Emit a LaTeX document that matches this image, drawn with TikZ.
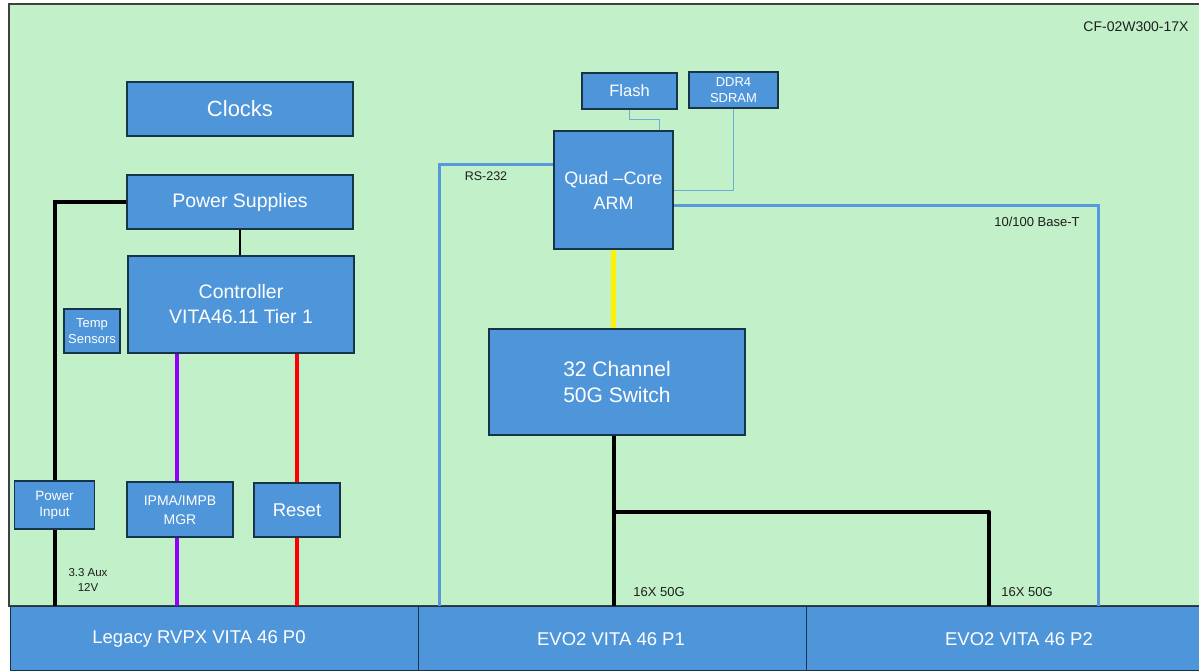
\documentclass[tikz,border=0pt]{standalone}
\usepackage{fontspec}
\setmainfont{Liberation Sans}
\definecolor{board}{RGB}{194,240,200}
\definecolor{boxblue}{RGB}{78,149,217}
\definecolor{edge}{RGB}{24,52,72}
\definecolor{linkblue}{RGB}{86,152,218}
\definecolor{thinblue}{RGB}{112,172,216}
\definecolor{wire}{RGB}{30,30,30}
\definecolor{ipmbline}{RGB}{145,0,255}
\begin{document}
\begin{tikzpicture}[x=1pt,y=-1pt,
    box/.style={draw=edge,line width=1.6pt,fill=boxblue,text=white,align=center,inner sep=0pt},
    conn/.style={draw=edge,line width=1pt,fill=boxblue,inner sep=0pt},
    tag/.style={text=wire,align=center,inner sep=0pt,font=\fontsize{13}{14.5}\selectfont},
    pwr/.style={draw=black,line width=4pt},
    eth/.style={draw=linkblue,line width=3pt},
    mem/.style={draw=thinblue,line width=1pt}]
  \useasboundingbox (0,0) rectangle (1199,670);
  \draw[line width=1.5pt,draw=black!75,fill=board] (9,4) rectangle (1230,606);
  \node[tag,font=\fontsize{14}{16}\selectfont] (partno) at (1136,27) {CF-02W300-17X};

  % backplane connectors
  \node[conn,minimum width=408,minimum height=64] (p0) at (214,638) {};
  \node[conn,minimum width=388,minimum height=64] (p1) at (612,638) {};
  \node[conn,minimum width=426,minimum height=64] (p2) at (1019,638) {};
  \node[text=white,font=\fontsize{18.5}{20}\selectfont] (p0txt) at (199,639) {Legacy RVPX VITA 46 P0};
  \node[text=white,font=\fontsize{18.5}{20}\selectfont] (p1txt) at (611,639) {EVO2 VITA 46 P1};
  \node[text=white,font=\fontsize{18.5}{20}\selectfont] (p2txt) at (1019,639) {EVO2 VITA 46 P2};

  % left half
  \node[box,minimum width=226,minimum height=54,font=\fontsize{22}{24}\selectfont] (clk) at (240,109) {Clocks};
  \node[box,minimum width=226,minimum height=54,font=\fontsize{19.5}{25}\selectfont] (psu) at (240,202) {Power Supplies};
  \node[box,minimum width=226,minimum height=97,font=\fontsize{19.5}{25}\selectfont] (ctrl) at (241,304.5) {Controller\\VITA46.11 Tier 1};
  \node[box,minimum width=56,minimum height=44,font=\fontsize{13}{16.5}\selectfont] (temp) at (92,331) {Temp\\Sensors};
  \node[box,minimum width=80,minimum height=48,font=\fontsize{13.5}{16.5}\selectfont] (pin) at (54.5,505) {Power\\Input};
  \node[box,minimum width=106,minimum height=55,font=\fontsize{14}{19}\selectfont] (ipma) at (180,509.5) {IPMA/IMPB\\MGR};
  \node[box,minimum width=86,minimum height=54,font=\fontsize{18.5}{20}\selectfont] (rst) at (297,510) {Reset};

  % right half
  \node[box,minimum width=95,minimum height=36,font=\fontsize{16.5}{18}\selectfont] (flash) at (629.5,91) {Flash};
  \node[box,minimum width=89,minimum height=36,font=\fontsize{13}{15.5}\selectfont] (ddr) at (733.5,90) {DDR4\\SDRAM};
  \node[box,minimum width=119,minimum height=118,font=\fontsize{18}{25}\selectfont] (arm) at (613.5,190) {Quad –Core\\ARM};
  \node[box,minimum width=256,minimum height=106,font=\fontsize{21}{26}\selectfont] (sw) at (617,382) {32 Channel\\50G Switch};

  % power and management
  \draw[pwr] (psu.west) -| (pin.north);
  \draw[pwr] (pin.south) -- (pin.south |- p0.north);
  \node[tag,font=\fontsize{11.5}{14.5}\selectfont] (auxv) at (88,580) {3.3 Aux\\12V};
  \draw[draw=black,line width=2.2pt] (psu.south) -- (psu.south |- ctrl.north);
  \draw[draw=ipmbline,line width=4pt] ([xshift=-3pt]ipma.north |- ctrl.south) -- ([xshift=-3pt]ipma.north);
  \draw[draw=ipmbline,line width=4pt] ([xshift=-3pt]ipma.south) -- ([xshift=-3pt]ipma.south |- p0.north);
  \draw[draw=red,line width=4pt] (rst.north |- ctrl.south) -- (rst.north);
  \draw[draw=red,line width=4pt] (rst.south) -- (rst.south |- p0.north);

  % processor and switch
  \draw[mem] (flash.south) -- ++(0,10) -| ([xshift=45.5pt]arm.north);
  \draw[mem] (ddr.south) |- (arm.east);
  \draw[draw=yellow,line width=5pt] (arm.south) -- (arm.south |- sw.north);
  \coordinate (tap) at (613.5,512);
  \coordinate (p2in) at (989,606);
  \draw[pwr] (arm.south |- sw.south) -- (arm.south |- p1.north);
  \draw[pwr,line join=round] (tap) -| (p2in);
  \node[tag] (lnka) at (659,592) {16X 50G};
  \node[tag] (lnkb) at (1027,592) {16X 50G};

  \coordinate (rsin) at (439,606);
  \coordinate (ethin) at (1098,606);
  \draw[eth] ([yshift=26pt]arm.west) -| (rsin);
  \draw[eth] ([yshift=-15pt]arm.east) -| (ethin);
  \node[tag,font=\fontsize{12.5}{14}\selectfont] (rs232) at (486,176) {RS-232};
  \node[tag] (base) at (1037,222) {10/100 Base-T};
\end{tikzpicture}
\end{document}
